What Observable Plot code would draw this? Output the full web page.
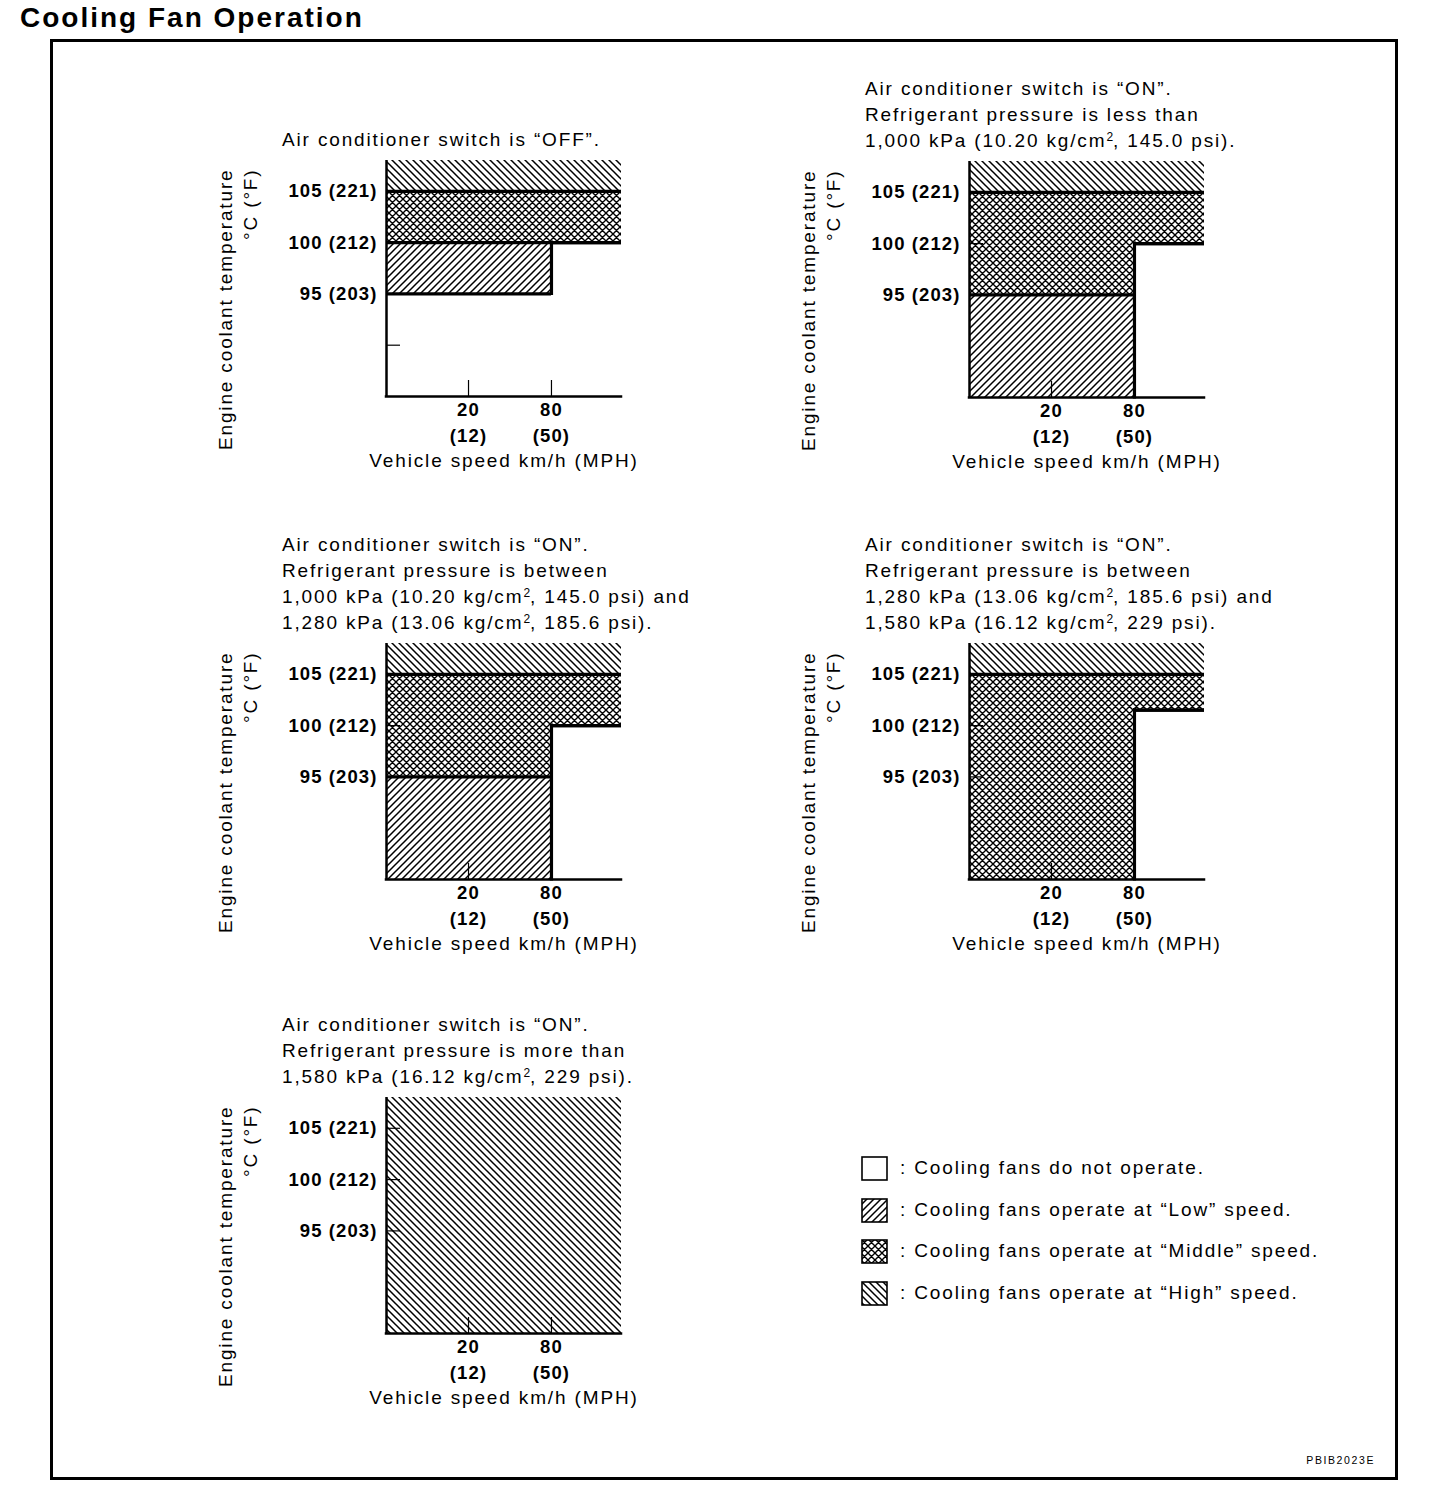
<!DOCTYPE html>
<html>
<head>
<meta charset="utf-8">
<script src="https://cdn.jsdelivr.net/npm/d3@7"></script>
<script src="https://cdn.jsdelivr.net/npm/@observablehq/plot@0.6"></script>
<style>
html,body{margin:0;padding:0;background:#fff;}
#page{position:relative;width:1440px;height:1508px;overflow:hidden;font-family:"Liberation Sans",Arial,Helvetica,sans-serif;color:#000;}
#title{position:absolute;left:20px;top:0px;font-size:28px;font-weight:bold;letter-spacing:2.0px;white-space:nowrap;line-height:36px;}
#frame{position:absolute;left:50px;top:39px;width:1348px;height:1441px;box-sizing:border-box;border:3px solid #000;}
.sub{position:absolute;font-size:19px;line-height:26px;letter-spacing:1.85px;white-space:nowrap;}
.sub sup{font-size:12px;line-height:0;vertical-align:6px;letter-spacing:0;}
.panel{position:absolute;}
.panel svg{overflow:visible;}
.panel svg text{letter-spacing:1.85px;}
.panel svg g[font-weight="bold"] text{letter-spacing:1.1px;}
.lrow{position:absolute;white-space:nowrap;font-size:19px;letter-spacing:1.85px;line-height:24px;}
.lrow svg{position:absolute;left:0;top:0;}
.lrow span{position:absolute;left:39px;top:0;}
#code{position:absolute;font-size:10.5px;letter-spacing:1.6px;white-space:nowrap;}
</style>
</head>
<body>
<div id="page">
  <div id="title"></div>
  <div id="frame"></div>
</div>
<svg width="0" height="0" style="position:absolute;left:0;top:0" aria-hidden="true"><defs id="patterns"></defs></svg>
<script>
// ---------------- data ----------------
const chartTitle = "Cooling Fan Operation";
const figureCode = "PBIB2023E";

const speedTicks = [20, 80];          // km/h
const speedTicksMph = [12, 50];       // MPH
const speedBreak = 80;                // km/h where the map changes
const speedEnd = 120;                 // right edge of the speed axis (km/h)
const tempTicks = [105, 100, 95];     // °C
const tempTicksF = [221, 212, 203];   // °F
const tempMin = 85;                   // bottom of the temperature axis (°C)
const tempMax = 108;                  // top of the temperature axis (°C)

const xTitle = "Vehicle speed km/h (MPH)";
const yTitle = "Engine coolant temperature";
const yUnit = "°C (°F)";

const panelTitles = [
  ["Air conditioner switch is “OFF”."],
  ["Air conditioner switch is “ON”.",
   "Refrigerant pressure is less than",
   "1,000 kPa (10.20 kg/cm², 145.0 psi)."],
  ["Air conditioner switch is “ON”.",
   "Refrigerant pressure is between",
   "1,000 kPa (10.20 kg/cm², 145.0 psi) and",
   "1,280 kPa (13.06 kg/cm², 185.6 psi)."],
  ["Air conditioner switch is “ON”.",
   "Refrigerant pressure is between",
   "1,280 kPa (13.06 kg/cm², 185.6 psi) and",
   "1,580 kPa (16.12 kg/cm², 229 psi)."],
  ["Air conditioner switch is “ON”.",
   "Refrigerant pressure is more than",
   "1,580 kPa (16.12 kg/cm², 229 psi)."]
];

// temperature (°C) where Low, Middle and High speed start, for each panel
// (85 = already from the bottom of the axis)
const startBelow80 = [[95, 100, 105], [85, 95, 105], [85, 95, 105], [85, 85, 105], [85, 85, 85]];
const startAbove80 = [[100, 100, 105], [100, 100, 105], [100, 100, 105], [101.5, 101.5, 105], [85, 85, 85]];

// inner tick marks on the temperature axis of each panel
const tempTickMarks = [[90, 95, 100, 105], [95, 100, 105], [95, 100, 105], [95, 100, 105], [95, 100, 105]];

const levels = ["Off", "Low", "Middle", "High"];
const legendLabels = [
  ": Cooling fans do not operate.",
  ": Cooling fans operate at “Low” speed.",
  ": Cooling fans operate at “Middle” speed.",
  ": Cooling fans operate at “High” speed."
];

// ---------------- styling / layout ----------------
const FONT = "'Liberation Sans', Arial, Helvetica, sans-serif";
const levelFill = ["none", "url(#p-low)", "url(#p-mid)", "url(#p-high)"];
const panelPos = [
  {left: 386, top: 160}, {left: 969, top: 161},
  {left: 386, top: 643}, {left: 969, top: 643},
  {left: 386, top: 1097}
];
const PW = 235, PH = 236, ML = 186, MT = 10, MB = 82, MR = 40;
const xFrac = [0, 0.349, 0.702, 1];

// hatch patterns
(function () {
  const s = 7, sw = 1.5;
  const fwd = `M${-s},${s}L${s},${-s}M${-s},${2*s}L${2*s},${-s}M0,${2*s}L${2*s},0`;
  const back = `M0,${-s}L${2*s},${s}M${-s},${-s}L${2*s},${2*s}M${-s},0L${s},${2*s}`;
  const pat = (id, d, w) => `<pattern id="${id}" patternUnits="userSpaceOnUse" width="${s}" height="${s}">` +
    `<rect width="${s}" height="${s}" fill="#fff"/><path d="${d}" stroke="#000" stroke-width="${w}" fill="none"/></pattern>`;
  document.getElementById("patterns").innerHTML =
    pat("p-low", fwd, sw) + pat("p-mid", fwd + back, 1.4) + pat("p-high", back, sw);
})();

const page = document.getElementById("page");
document.getElementById("title").textContent = chartTitle;

function regions(p) {
  const bands = [[0, speedBreak, startBelow80[p]], [speedBreak, speedEnd, startAbove80[p]]];
  const out = [];
  for (const [x1, x2, st] of bands) {
    const b = [tempMin, ...st, tempMax];
    for (let k = 0; k < 4; k++) if (b[k + 1] > b[k]) out.push({x1, x2, y1: b[k], y2: b[k + 1], level: k});
  }
  return out;
}
function hBounds(p) {
  const bands = [[0, speedBreak, startBelow80[p]], [speedBreak, speedEnd, startAbove80[p]]];
  const out = [];
  for (const [x1, x2, st] of bands) for (const t of st) if (t > tempMin) out.push({x1, x2, y: t});
  return out;
}
function vBounds(p) {
  const a = startBelow80[p], b = startAbove80[p], diff = [];
  a.forEach((t, k) => { if (t !== b[k]) diff.push(t, b[k]); });
  return diff.length ? [{x: speedBreak, y1: d3.min(diff), y2: d3.max(diff)}] : [];
}

function subHTML(line) {
  return line.replace(/&/g, "&amp;").replace(/</g, "&lt;").replace(/²/g, "<sup>2</sup>");
}

panelTitles.forEach((lines, p) => {
  const pos = panelPos[p];
  // subtitle lines
  const sub = document.createElement("div");
  sub.className = "sub";
  sub.style.left = (pos.left - 104) + "px";
  sub.style.top = (pos.top - 7 - 26 * lines.length) + "px";
  sub.innerHTML = lines.map(subHTML).join("<br>");
  page.appendChild(sub);

  const W = ML + PW + MR, H = MT + PH + MB;
  const reg = regions(p);
  const chart = Plot.plot({
    width: W, height: H,
    marginLeft: ML, marginRight: MR, marginTop: MT, marginBottom: MB,
    style: {fontFamily: FONT, background: "transparent", overflow: "visible", color: "#000"},
    x: {type: "linear", domain: [0, ...speedTicks, speedEnd], range: xFrac.map(f => ML + f * PW), axis: null},
    y: {type: "linear", domain: [tempMin, tempMax], range: [MT + PH, MT], axis: null},
    marks: [
      ...[1, 2, 3].map(k => Plot.rect(reg.filter(d => d.level === k), {
        x1: "x1", x2: "x2", y1: "y1", y2: "y2", fill: levelFill[k]
      })),
      Plot.axisX(speedTicks, {anchor: "bottom", tickSize: -16, fill: "none", strokeWidth: 1.2}),
      Plot.axisY(tempTickMarks[p], {anchor: "left", tickSize: -14, fill: "none", strokeWidth: 1.2}),
      Plot.ruleY(hBounds(p), {y: "y", x1: "x1", x2: "x2", strokeWidth: 3.2, stroke: "#000"}),
      Plot.ruleX(vBounds(p), {x: "x", y1: "y1", y2: "y2", strokeWidth: 3.2, stroke: "#000", strokeLinecap: "square"}),
      Plot.ruleX([0], {y1: tempMin, y2: tempMax, strokeWidth: 2.5, stroke: "#000"}),
      Plot.ruleY([tempMin], {x1: 0, x2: speedEnd, strokeWidth: 2.5, stroke: "#000", strokeLinecap: "square"}),
      Plot.text(speedTicks, {
        x: d => d, frameAnchor: "bottom", lineAnchor: "top", dy: 1,
        text: (d, i) => `${d}\n(${speedTicksMph[i]})`, lineHeight: 1.4,
        fontSize: 18.5, fontWeight: "bold", fill: "#000"
      }),
      Plot.text(tempTicks, {
        y: d => d, frameAnchor: "left", textAnchor: "end", dx: -9,
        text: (d, i) => `${d} (${tempTicksF[i]})`,
        fontSize: 18.5, fontWeight: "bold", fill: "#000"
      }),
      Plot.text([xTitle], {text: d => d, frameAnchor: "bottom", dy: 70, fontSize: 19, fill: "#000"}),
      Plot.text([yTitle], {text: d => d, frameAnchor: "top-left", rotate: -90, textAnchor: "end", dx: -168, dy: 8, fontSize: 19, fill: "#000"}),
      Plot.text([yUnit], {text: d => d, frameAnchor: "top-left", rotate: -90, textAnchor: "end", dx: -143, dy: 8, fontSize: 19, fill: "#000"})
    ]
  });
  const holder = document.createElement("div");
  holder.className = "panel";
  holder.style.left = (pos.left - ML) + "px";
  holder.style.top = (pos.top - MT) + "px";
  holder.style.width = W + "px";
  holder.style.height = H + "px";
  holder.appendChild(chart);
  page.appendChild(holder);
});

// legend
const legendTop = 1156, legendStep = 41.7, legendLeft = 861;
legendLabels.forEach((label, k) => {
  const row = document.createElement("div");
  row.className = "lrow";
  row.style.left = legendLeft + "px";
  row.style.top = (legendTop + k * legendStep) + "px";
  row.innerHTML = `<svg width="27" height="25"><rect x="1" y="1" width="25" height="23" fill="${k === 0 ? "#fff" : levelFill[k]}" stroke="#000" stroke-width="1.6"/></svg><span></span>`;
  row.querySelector("span").textContent = label;
  page.appendChild(row);
});

const code = document.createElement("div");
code.id = "code";
code.textContent = figureCode;
code.style.right = (1440 - 1375) + "px";
code.style.top = "1454px";
page.appendChild(code);
</script>
</body>
</html>
